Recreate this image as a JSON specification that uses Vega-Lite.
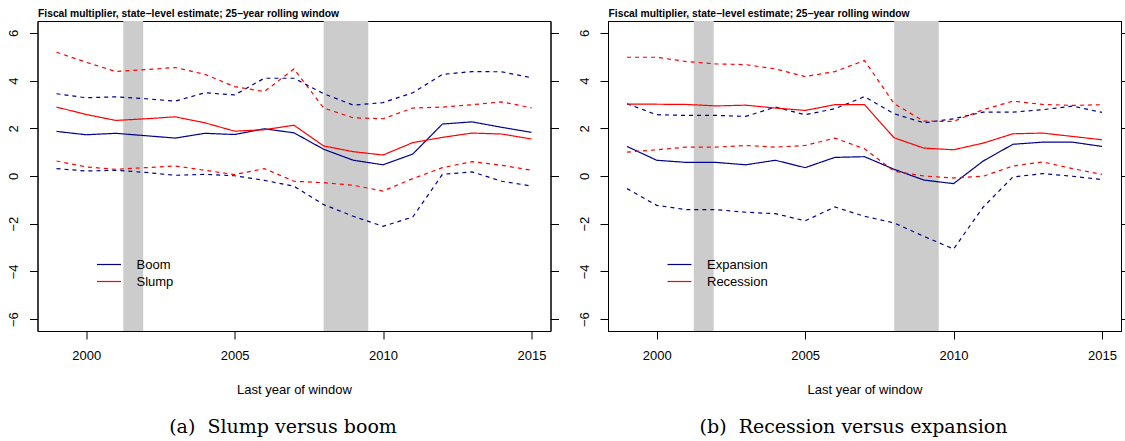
{
  "$schema": "https://vega.github.io/schema/vega-lite/v6.json",
  "background": "white",
  "padding": {"left": 6.5, "top": 7, "right": 0, "bottom": 0},
  "autosize": {"type": "pad"},
  "spacing": 17.5,
  "config": {
    "font": "Liberation Sans",
    "view": {"stroke": "black", "strokeWidth": 1},
    "axis": {
      "grid": false,
      "labelFont": "Liberation Sans",
      "labelFontSize": 13,
      "labelColor": "black",
      "titleFont": "Liberation Sans",
      "titleFontSize": 13,
      "titleFontWeight": "normal",
      "titleColor": "black",
      "tickColor": "black",
      "domainColor": "black",
      "tickSize": 8,
      "tickWidth": 1,
      "domainWidth": 1
    },
    "legend": {
      "labelFont": "Liberation Sans",
      "labelFontSize": 13,
      "labelColor": "black",
      "padding": 0
    },
    "title": {
      "font": "DejaVu Serif",
      "fontSize": 19,
      "fontWeight": "normal",
      "color": "black"
    }
  },
  "datasets": {
    "nber": [
      {"start": 2001.25, "end": 2001.92},
      {"start": 2008.0, "end": 2009.5}
    ],
    "slumpBoom": [
      {"year": 1999, "regime": "Boom", "estimate": 1.87, "lower": 0.31, "upper": 3.45},
      {"year": 2000, "regime": "Boom", "estimate": 1.73, "lower": 0.21, "upper": 3.28},
      {"year": 2001, "regime": "Boom", "estimate": 1.79, "lower": 0.24, "upper": 3.32},
      {"year": 2002, "regime": "Boom", "estimate": 1.69, "lower": 0.15, "upper": 3.24},
      {"year": 2003, "regime": "Boom", "estimate": 1.59, "lower": 0.03, "upper": 3.14},
      {"year": 2004, "regime": "Boom", "estimate": 1.79, "lower": 0.07, "upper": 3.49},
      {"year": 2005, "regime": "Boom", "estimate": 1.74, "lower": 0.01, "upper": 3.40},
      {"year": 2006, "regime": "Boom", "estimate": 1.98, "lower": -0.18, "upper": 4.10},
      {"year": 2007, "regime": "Boom", "estimate": 1.81, "lower": -0.43, "upper": 4.10},
      {"year": 2008, "regime": "Boom", "estimate": 1.12, "lower": -1.20, "upper": 3.45},
      {"year": 2009, "regime": "Boom", "estimate": 0.66, "lower": -1.69, "upper": 2.97},
      {"year": 2010, "regime": "Boom", "estimate": 0.47, "lower": -2.11, "upper": 3.08},
      {"year": 2011, "regime": "Boom", "estimate": 0.92, "lower": -1.72, "upper": 3.49},
      {"year": 2012, "regime": "Boom", "estimate": 2.18, "lower": 0.07, "upper": 4.26},
      {"year": 2013, "regime": "Boom", "estimate": 2.27, "lower": 0.17, "upper": 4.38},
      {"year": 2014, "regime": "Boom", "estimate": 2.04, "lower": -0.22, "upper": 4.37},
      {"year": 2015, "regime": "Boom", "estimate": 1.83, "lower": -0.42, "upper": 4.12},
      {"year": 1999, "regime": "Slump", "estimate": 2.89, "lower": 0.63, "upper": 5.19},
      {"year": 2000, "regime": "Slump", "estimate": 2.58, "lower": 0.38, "upper": 4.77},
      {"year": 2001, "regime": "Slump", "estimate": 2.33, "lower": 0.28, "upper": 4.38},
      {"year": 2002, "regime": "Slump", "estimate": 2.40, "lower": 0.35, "upper": 4.46},
      {"year": 2003, "regime": "Slump", "estimate": 2.48, "lower": 0.42, "upper": 4.55},
      {"year": 2004, "regime": "Slump", "estimate": 2.23, "lower": 0.24, "upper": 4.26},
      {"year": 2005, "regime": "Slump", "estimate": 1.88, "lower": 0.06, "upper": 3.75},
      {"year": 2006, "regime": "Slump", "estimate": 1.94, "lower": 0.31, "upper": 3.54},
      {"year": 2007, "regime": "Slump", "estimate": 2.13, "lower": -0.22, "upper": 4.49},
      {"year": 2008, "regime": "Slump", "estimate": 1.26, "lower": -0.28, "upper": 2.85},
      {"year": 2009, "regime": "Slump", "estimate": 1.02, "lower": -0.39, "upper": 2.44},
      {"year": 2010, "regime": "Slump", "estimate": 0.88, "lower": -0.63, "upper": 2.40},
      {"year": 2011, "regime": "Slump", "estimate": 1.40, "lower": -0.11, "upper": 2.85},
      {"year": 2012, "regime": "Slump", "estimate": 1.62, "lower": 0.35, "upper": 2.89},
      {"year": 2013, "regime": "Slump", "estimate": 1.80, "lower": 0.60, "upper": 2.99},
      {"year": 2014, "regime": "Slump", "estimate": 1.76, "lower": 0.45, "upper": 3.11},
      {"year": 2015, "regime": "Slump", "estimate": 1.55, "lower": 0.24, "upper": 2.86}
    ],
    "recessionExpansion": [
      {"year": 1999, "regime": "Expansion", "estimate": 1.24, "lower": -0.53, "upper": 3.03},
      {"year": 2000, "regime": "Expansion", "estimate": 0.66, "lower": -1.23, "upper": 2.57},
      {"year": 2001, "regime": "Expansion", "estimate": 0.57, "lower": -1.41, "upper": 2.54},
      {"year": 2002, "regime": "Expansion", "estimate": 0.57, "lower": -1.41, "upper": 2.54},
      {"year": 2003, "regime": "Expansion", "estimate": 0.47, "lower": -1.52, "upper": 2.50},
      {"year": 2004, "regime": "Expansion", "estimate": 0.66, "lower": -1.58, "upper": 2.89},
      {"year": 2005, "regime": "Expansion", "estimate": 0.35, "lower": -1.88, "upper": 2.57},
      {"year": 2006, "regime": "Expansion", "estimate": 0.78, "lower": -1.30, "upper": 2.82},
      {"year": 2007, "regime": "Expansion", "estimate": 0.81, "lower": -1.69, "upper": 3.33},
      {"year": 2008, "regime": "Expansion", "estimate": 0.28, "lower": -1.97, "upper": 2.61},
      {"year": 2009, "regime": "Expansion", "estimate": -0.17, "lower": -2.53, "upper": 2.23},
      {"year": 2010, "regime": "Expansion", "estimate": -0.32, "lower": -3.06, "upper": 2.40},
      {"year": 2011, "regime": "Expansion", "estimate": 0.63, "lower": -1.30, "upper": 2.68},
      {"year": 2012, "regime": "Expansion", "estimate": 1.33, "lower": -0.04, "upper": 2.68},
      {"year": 2013, "regime": "Expansion", "estimate": 1.42, "lower": 0.10, "upper": 2.78},
      {"year": 2014, "regime": "Expansion", "estimate": 1.42, "lower": -0.01, "upper": 2.93},
      {"year": 2015, "regime": "Expansion", "estimate": 1.24, "lower": -0.15, "upper": 2.67},
      {"year": 1999, "regime": "Recession", "estimate": 3.01, "lower": 1.00, "upper": 4.98},
      {"year": 2000, "regime": "Recession", "estimate": 3.01, "lower": 1.10, "upper": 4.98},
      {"year": 2001, "regime": "Recession", "estimate": 3.00, "lower": 1.21, "upper": 4.80},
      {"year": 2002, "regime": "Recession", "estimate": 2.94, "lower": 1.21, "upper": 4.70},
      {"year": 2003, "regime": "Recession", "estimate": 2.97, "lower": 1.28, "upper": 4.67},
      {"year": 2004, "regime": "Recession", "estimate": 2.85, "lower": 1.21, "upper": 4.49},
      {"year": 2005, "regime": "Recession", "estimate": 2.75, "lower": 1.28, "upper": 4.17},
      {"year": 2006, "regime": "Recession", "estimate": 2.99, "lower": 1.59, "upper": 4.38},
      {"year": 2007, "regime": "Recession", "estimate": 2.99, "lower": 1.14, "upper": 4.84},
      {"year": 2008, "regime": "Recession", "estimate": 1.60, "lower": 0.20, "upper": 3.03},
      {"year": 2009, "regime": "Recession", "estimate": 1.17, "lower": 0.00, "upper": 2.30},
      {"year": 2010, "regime": "Recession", "estimate": 1.10, "lower": -0.08, "upper": 2.29},
      {"year": 2011, "regime": "Recession", "estimate": 1.38, "lower": -0.01, "upper": 2.78},
      {"year": 2012, "regime": "Recession", "estimate": 1.77, "lower": 0.42, "upper": 3.14},
      {"year": 2013, "regime": "Recession", "estimate": 1.80, "lower": 0.59, "upper": 3.00},
      {"year": 2014, "regime": "Recession", "estimate": 1.66, "lower": 0.31, "upper": 2.96},
      {"year": 2015, "regime": "Recession", "estimate": 1.52, "lower": 0.07, "upper": 2.99}
    ]
  },
  "hconcat": [
    {
      "width": 513,
      "height": 310,
      "title": {"text": "(a)\u00a0 Slump versus boom", "orient": "bottom", "anchor": "middle", "offset": 21, "dx": -11},
      "resolve": {"axis": {"x": "independent", "y": "independent"}},
      "layer": [
        {
          "data": {"name": "nber"},
          "mark": {"type": "rect", "color": "#CCCCCC"},
          "encoding": {
            "x": {
              "field": "start", "type": "quantitative",
              "scale": {"domain": [1998.36, 2015.64], "nice": false, "zero": false},
              "axis": {"orient": "top", "labels": false, "ticks": false, "title": "Fiscal multiplier, state−level estimate; 25−year rolling window", "titleAnchor": "start", "titleFontWeight": "bold", "titleFontSize": 10.3, "titlePadding": 3}
            },
            "x2": {"field": "end"}
          }
        },
        {
          "mark": {"type": "rule", "color": "black", "strokeWidth": 1},
          "encoding": {
            "y": {
              "datum": 0, "type": "quantitative",
              "scale": {"domain": [-6.5, 6.5], "nice": false, "zero": false},
              "axis": {"orient": "right", "labels": false, "title": null, "values": [-6, -4, -2, 0, 2, 4, 6]}
            }
          }
        },
        {
          "data": {"name": "slumpBoom"},
          "transform": [{"fold": ["estimate", "lower", "upper"], "as": ["stat", "value"]}],
          "mark": {"type": "line", "strokeWidth": 1.2},
          "encoding": {
            "x": {
              "field": "year", "type": "quantitative",
              "axis": {"orient": "bottom", "values": [2000, 2005, 2010, 2015], "format": "d", "labelFlush": false, "labelPadding": 10, "title": "Last year of window", "titlePadding": 21.5}
            },
            "y": {
              "field": "value", "type": "quantitative",
              "axis": {"orient": "left", "values": [-6, -4, -2, 0, 2, 4, 6], "labelAngle": 270, "labelAlign": "center", "labelBaseline": "bottom", "labelPadding": 9, "title": null}
            },
            "color": {
              "field": "regime", "type": "nominal",
              "scale": {"domain": ["Boom", "Slump"], "range": ["#00008B", "#FF0000"]},
              "legend": {"title": null, "orient": "none", "legendX": 65, "legendY": 237, "symbolType": "M-3,0H3", "symbolSize": 64, "symbolStrokeWidth": 1.2, "labelOffset": 21, "rowPadding": 3}
            },
            "strokeDash": {
              "field": "stat", "type": "nominal",
              "scale": {"domain": ["estimate", "lower", "upper"], "range": [[1, 0], [4, 4], [4, 4]]},
              "legend": null
            }
          }
        }
      ]
    },
    {
      "width": 513,
      "height": 310,
      "title": {"text": "(b)\u00a0 Recession versus expansion", "orient": "bottom", "anchor": "middle", "offset": 21, "dx": -11},
      "resolve": {"axis": {"x": "independent", "y": "independent"}},
      "layer": [
        {
          "data": {"name": "nber"},
          "mark": {"type": "rect", "color": "#CCCCCC"},
          "encoding": {
            "x": {
              "field": "start", "type": "quantitative",
              "scale": {"domain": [1998.36, 2015.64], "nice": false, "zero": false},
              "axis": {"orient": "top", "labels": false, "ticks": false, "title": "Fiscal multiplier, state−level estimate; 25−year rolling window", "titleAnchor": "start", "titleFontWeight": "bold", "titleFontSize": 10.3, "titlePadding": 3}
            },
            "x2": {"field": "end"}
          }
        },
        {
          "mark": {"type": "rule", "color": "black", "strokeWidth": 1},
          "encoding": {
            "y": {
              "datum": 0, "type": "quantitative",
              "scale": {"domain": [-6.5, 6.5], "nice": false, "zero": false},
              "axis": {"orient": "right", "labels": false, "title": null, "values": [-6, -4, -2, 0, 2, 4, 6]}
            }
          }
        },
        {
          "data": {"name": "recessionExpansion"},
          "transform": [{"fold": ["estimate", "lower", "upper"], "as": ["stat", "value"]}],
          "mark": {"type": "line", "strokeWidth": 1.2},
          "encoding": {
            "x": {
              "field": "year", "type": "quantitative",
              "axis": {"orient": "bottom", "values": [2000, 2005, 2010, 2015], "format": "d", "labelFlush": false, "labelPadding": 10, "title": "Last year of window", "titlePadding": 21.5}
            },
            "y": {
              "field": "value", "type": "quantitative",
              "axis": {"orient": "left", "values": [-6, -4, -2, 0, 2, 4, 6], "labelAngle": 270, "labelAlign": "center", "labelBaseline": "bottom", "labelPadding": 9, "title": null}
            },
            "color": {
              "field": "regime", "type": "nominal",
              "scale": {"domain": ["Expansion", "Recession"], "range": ["#00008B", "#FF0000"]},
              "legend": {"title": null, "orient": "none", "legendX": 65, "legendY": 237, "symbolType": "M-3,0H3", "symbolSize": 64, "symbolStrokeWidth": 1.2, "labelOffset": 21, "rowPadding": 3}
            },
            "strokeDash": {
              "field": "stat", "type": "nominal",
              "scale": {"domain": ["estimate", "lower", "upper"], "range": [[1, 0], [4, 4], [4, 4]]},
              "legend": null
            }
          }
        }
      ]
    }
  ],
  "resolve": {"scale": {"color": "independent", "strokeDash": "independent"}, "legend": {"color": "independent"}}
}
